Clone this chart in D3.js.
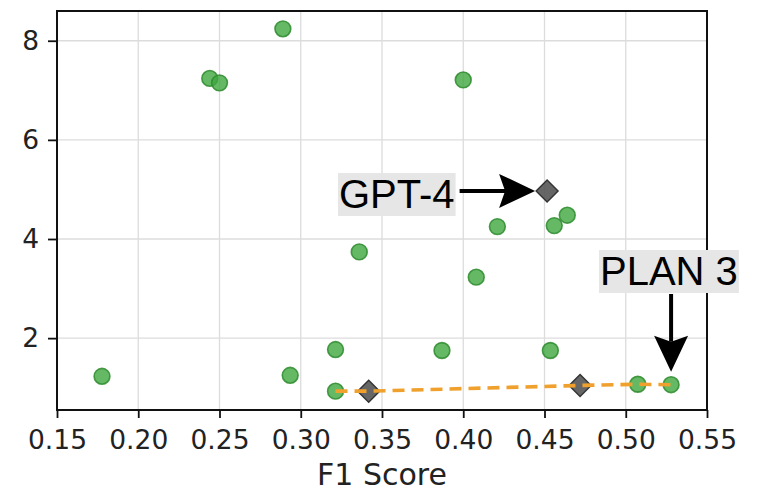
<!DOCTYPE html>
<html>
<head>
<meta charset="utf-8">
<script src="https://cdn.jsdelivr.net/npm/d3@7/dist/d3.min.js"></script>
<style>
  html, body { margin: 0; padding: 0; background: #fff; }
  svg { display: block; }
</style>
</head>
<body>
<svg id="chart" width="769" height="493"></svg>
<script>
// Candidate plans: F1 score vs. cost
const planF1   = [0.289, 0.244, 0.250, 0.400, 0.336, 0.421, 0.456, 0.464, 0.408, 0.1777, 0.2935, 0.3214, 0.3214, 0.3869, 0.4536, 0.5074, 0.5279];
const planCost = [8.24,  7.24,  7.15,  7.21,  3.74,  4.25,  4.27,  4.48,  3.23, 1.23,   1.25,   1.77,   0.93,   1.75,   1.75,   1.07,   1.06];

// Baseline models (diamonds)
const baseF1   = [0.3418, 0.4719, 0.4516];
const baseCost = [0.93,   1.045,  4.97];

// Frontier connecting the cheapest plans
const frontF1   = [0.3214, 0.3418, 0.4719, 0.5074, 0.5279];
const frontCost = [0.93,   0.93,   1.045,  1.07,   1.06];

const xTicks = [0.15, 0.20, 0.25, 0.30, 0.35, 0.40, 0.45, 0.50, 0.55];
const yTicks = [2, 4, 6, 8];

// Annotated marks: [label, F1, cost]
const gptLabel  = ["GPT-4", 0.4516, 4.97];
const planLabel = ["PLAN 3", 0.5279, 1.06];

const W = 769, H = 493;
const m = { left: 57, right: 62, top: 11, bottom: 83 };
const iw = W - m.left - m.right, ih = H - m.top - m.bottom;

const svg = d3.select("#chart");
const g = svg.append("g").attr("transform", `translate(${m.left},${m.top})`);

const x = d3.scaleLinear().domain([0.15, 0.55]).range([0, iw]);
const y = d3.scaleLinear().domain([0.55, 8.6]).range([ih, 0]);

// grid
g.append("g").selectAll("line").data(xTicks).join("line")
  .attr("x1", d => x(d)).attr("x2", d => x(d)).attr("y1", 0).attr("y2", ih)
  .attr("stroke", "#dcdcdc").attr("stroke-width", 1.3);
g.append("g").selectAll("line").data(yTicks).join("line")
  .attr("y1", d => y(d)).attr("y2", d => y(d)).attr("x1", 0).attr("x2", iw)
  .attr("stroke", "#dcdcdc").attr("stroke-width", 1.3);

// axes
const xAxis = g.append("g").attr("transform", `translate(0,${ih})`)
  .call(d3.axisBottom(x).tickValues(xTicks).tickFormat(d3.format(".2f")).tickSize(8).tickPadding(12));
const yAxis = g.append("g")
  .call(d3.axisLeft(y).tickValues(yTicks).tickFormat(d3.format("d")).tickSize(9).tickPadding(9));
[xAxis, yAxis].forEach(a => {
  a.select(".domain").remove();
  a.selectAll(".tick line").attr("stroke", "#111").attr("stroke-width", 1.8);
  a.selectAll(".tick text").attr("fill", "#222")
    .style("font-family", "'DejaVu Sans', sans-serif").style("font-size", "26.5px");
});

// frame
g.append("rect").attr("x", 0).attr("y", 0).attr("width", iw).attr("height", ih)
  .attr("fill", "none").attr("stroke", "#111").attr("stroke-width", 2);

// plan points
g.append("g").selectAll("circle").data(planF1.map((f, i) => [f, planCost[i]])).join("circle")
  .attr("cx", d => x(d[0])).attr("cy", d => y(d[1])).attr("r", 7.9)
  .attr("fill", "#3ea83e").attr("fill-opacity", 0.8)
  .attr("stroke", "#2e8b2e").attr("stroke-opacity", 0.85).attr("stroke-width", 1.6);

// baseline diamonds
const dsz = 11;
g.append("g").selectAll("path").data(baseF1.map((f, i) => [f, baseCost[i]])).join("path")
  .attr("d", d => {
    const cx = x(d[0]), cy = y(d[1]);
    return `M${cx},${cy - dsz}L${cx + dsz},${cy}L${cx},${cy + dsz}L${cx - dsz},${cy}Z`;
  })
  .attr("fill", "#555").attr("fill-opacity", 0.9)
  .attr("stroke", "#333").attr("stroke-width", 1.4);

// frontier line
g.append("path")
  .datum(frontF1.map((f, i) => [f, frontCost[i]]))
  .attr("d", d3.line().x(d => x(d[0])).y(d => y(d[1])))
  .attr("fill", "none").attr("stroke", "#f0a02c").attr("stroke-width", 3.6)
  .attr("stroke-dasharray", "12,7");

// annotations
function label(text, bx, baseline) {
  const grp = g.append("g");
  const rect = grp.append("rect").attr("fill", "#e6e6e6");
  const t = grp.append("text").text(text)
    .attr("x", bx).attr("y", baseline)
    .style("font-family", "'Liberation Sans', Arial, Helvetica, sans-serif")
    .style("font-size", "40px").attr("fill", "#000");
  const bb = t.node().getBBox();
  rect.attr("x", bb.x - 1).attr("y", bb.y + 1).attr("width", bb.width + 2).attr("height", bb.height - 1);
  return bb;
}
function arrow(x0, y0, x1, y1) {
  const dx = x1 - x0, dy = y1 - y0, L = Math.hypot(dx, dy);
  const ux = dx / L, uy = dy / L, px = -uy, py = ux;
  const hl = 36, hw = 17, notch = 6;
  const bx = x1 - ux * hl, by = y1 - uy * hl;
  g.append("line").attr("x1", x0).attr("y1", y0)
    .attr("x2", bx + ux * notch).attr("y2", by + uy * notch)
    .attr("stroke", "#000").attr("stroke-width", 4);
  g.append("path")
    .attr("d", `M${x1},${y1}L${bx + px * hw},${by + py * hw}L${bx + ux * notch},${by + uy * notch}L${bx - px * hw},${by - py * hw}Z`)
    .attr("fill", "#000");
}

// GPT-4: label to the left, horizontal arrow
const gx = x(gptLabel[1]), gy = y(gptLabel[2]);
const gb = label(gptLabel[0], 339 - m.left, 208 - m.top);
arrow(gb.x + gb.width + 5, gy, gx - 12, gy);

// PLAN 3: label above, vertical arrow
const px3 = x(planLabel[1]), py3 = y(planLabel[2]);
const pb = label(planLabel[0], 600 - m.left, 285 - m.top);
arrow(px3, pb.y + pb.height + 1, px3, py3 - 13);

// axis title
svg.append("text").text("F1 Score")
  .attr("x", m.left + iw / 2).attr("y", 485)
  .attr("text-anchor", "middle").attr("fill", "#222")
  .style("font-family", "'DejaVu Sans', sans-serif").style("font-size", "30px");
</script>
</body>
</html>
